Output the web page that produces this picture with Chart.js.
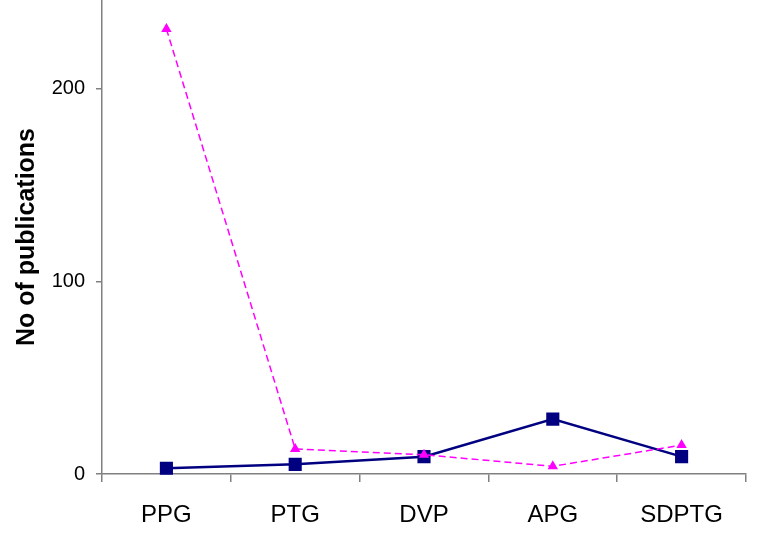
<!DOCTYPE html>
<html>
<head>
<meta charset="utf-8">
<script src="https://cdn.jsdelivr.net/npm/chart.js@4.4.0/dist/chart.umd.min.js"></script>
<style>
  html, body { margin: 0; padding: 0; background: #fff; }
  #wrap { width: 779px; height: 539px; }
</style>
</head>
<body>
<div id="wrap"><canvas id="chart" width="779" height="539"></canvas></div>
<script>
const categories = ['PPG', 'PTG', 'DVP', 'APG', 'SDPTG'];
const navySeries = [3, 5, 9, 28.5, 9];
const magentaSeries = [231, 13, 10, 4, 15];
const yTicks = [0, 100, 200];

const axisGray = '#808080';

new Chart(document.getElementById('chart'), {
  type: 'line',
  data: {
    labels: categories,
    datasets: [{
      label: 'Series 1',
      data: navySeries,
      borderColor: '#000080',
      backgroundColor: '#000080',
      borderWidth: 2.5,
      pointStyle: 'rect',
      pointRadius: 7.5,
      pointHoverRadius: 7.5,
      tension: 0,
      order: 1,
    }, {
      label: 'Series 2',
      data: magentaSeries,
      borderColor: '#FF00FF',
      backgroundColor: '#FF00FF',
      borderWidth: 1.5,
      borderDash: [7, 4],
      pointStyle: 'triangle',
      pointRadius: 4.5,
      pointHoverRadius: 4.5,
      tension: 0,
      order: 0,
    }],
  },
  options: {
    responsive: false,
    animation: false,
    clip: false,
    layout: { autoPadding: false, padding: { top: 0, right: 33, bottom: 0, left: 0 } },
    plugins: {
      legend: { display: false },
      tooltip: { enabled: false },
    },
    scales: {
      x: {
        offset: true,
        grid: {
          offset: true,
          drawOnChartArea: false,
          drawTicks: true,
          tickLength: 8,
          tickColor: axisGray,
          lineWidth: 1.5,
        },
        border: { color: axisGray, width: 1.5 },
        ticks: {
          color: '#000',
          padding: 19,
          maxRotation: 0,
          font: { family: 'Liberation Sans, Arial, sans-serif', size: 24 },
        },
        afterFit: (scale) => {
          scale.height = 65;
          scale.paddingLeft = 0;
          scale.paddingRight = 0;
        },
      },
      y: {
        min: 0,
        max: 246,
        afterBuildTicks: (scale) => { scale.ticks = yTicks.map(v => ({ value: v })); },
        grid: {
          drawOnChartArea: false,
          drawTicks: true,
          tickLength: 6,
          tickColor: axisGray,
          lineWidth: 1.5,
        },
        border: { color: axisGray, width: 1.5 },
        ticks: {
          color: '#000',
          padding: 11,
          font: { family: 'Liberation Sans, Arial, sans-serif', size: 20 },
        },
        title: {
          display: true,
          text: 'No of publications',
          color: '#000',
          padding: { top: 12, bottom: 0 },
          font: { family: 'Liberation Sans, Arial, sans-serif', size: 25, weight: 'bold' },
        },
        afterFit: (scale) => {
          scale.width = 102;
          scale.paddingTop = 0;
          scale.paddingBottom = 0;
        },
      },
    },
  },
});
</script>
</body>
</html>
